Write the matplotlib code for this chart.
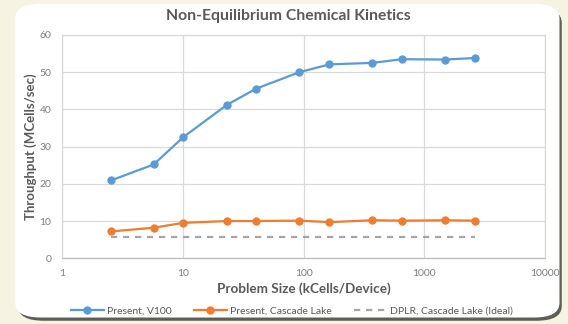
import numpy as np
import matplotlib.pyplot as plt
from matplotlib.patches import FancyBboxPatch

# Problem size (kCells/Device) and throughput (MCells/sec)
problem_size = [2.52, 5.7, 10, 23, 40.5, 92, 163, 370, 655, 1475, 2613]
v100 = [20.9, 25.2, 32.5, 41.2, 45.6, 50.0, 52.1, 52.5, 53.5, 53.4, 53.8]
cascade_lake = [7.2, 8.2, 9.5, 10.0, 10.0, 10.1, 9.7, 10.2, 10.1, 10.2, 10.1]
dplr_ideal = [5.7, 5.7]
dplr_x = [2.52, 2613]

plt.rcParams['font.family'] = ['Lato', 'DejaVu Sans']

fig = plt.figure(figsize=(5.68, 3.24), dpi=100)
fig.patch.set_facecolor('#f6f3e2')

# card with shadow
shadow = FancyBboxPatch((0.032, 0.010), 0.957, 0.965, boxstyle='round,pad=0,rounding_size=0.045',
                        transform=fig.transFigure, facecolor='#5e5e55', edgecolor='none', zorder=0)
card = FancyBboxPatch((0.027, 0.020), 0.958, 0.968, boxstyle='round,pad=0,rounding_size=0.045',
                      transform=fig.transFigure, facecolor='white', edgecolor='none', zorder=1)
fig.patches.extend([shadow, card])

ax = fig.add_axes([0.110, 0.203, 0.8495, 0.689])
ax.set_facecolor('white')
ax.set_zorder(2)

ax.plot(problem_size, v100, color='#5b9bd5', lw=1.6, marker='o', ms=5, label='Present, V100')
ax.plot(problem_size, cascade_lake, color='#ed7d31', lw=1.6, marker='o', ms=5, label='Present, Cascade Lake')
ax.plot(dplr_x, dplr_ideal, color='#a5a5a5', lw=1.6, ls=(0, (2.8, 2.6)), label='DPLR, Cascade Lake (Ideal)')

ax.set_xscale('log')
ax.set_xlim(1, 10000)
ax.set_ylim(0, 60)
ax.set_xticks([1, 10, 100, 1000, 10000])
ax.set_xticklabels(['1', '10', '100', '1000', '10000'])
ax.xaxis.set_minor_locator(plt.NullLocator())
ax.set_yticks(range(0, 61, 10))
ax.grid(True, color='#d9d9d9', lw=0.9)
ax.set_axisbelow(True)
for s in ax.spines.values():
    s.set_color('#d9d9d9')
    s.set_linewidth(0.9)
ax.spines['bottom'].set_color('#bfbfbf')
ax.tick_params(length=0, labelsize=7.5, labelcolor='#7f7f7f', pad=8)

fig.text(0.507, 0.951, 'Non-Equilibrium Chemical Kinetics', ha='center', va='center',
         fontsize=11.3, fontweight='bold', color='#595959', zorder=3)
fig.text(0.054, 0.547, 'Throughput (MCells/sec)', rotation=90, ha='center', va='center',
         fontsize=9.5, fontweight='bold', color='#595959', zorder=3)
fig.text(0.535, 0.108, 'Problem Size (kCells/Device)', ha='center', va='center',
         fontsize=9.7, fontweight='bold', color='#595959', zorder=3)

leg = fig.legend(loc='center', bbox_to_anchor=(0.514, 0.040), ncol=3, frameon=False,
                 fontsize=7.5, handlelength=3.1, columnspacing=2.2, handletextpad=0.3)
for t in leg.get_texts():
    t.set_color('#595959')
leg.set_zorder(3)

fig.savefig('out.png', dpi=100, facecolor=fig.get_facecolor())
